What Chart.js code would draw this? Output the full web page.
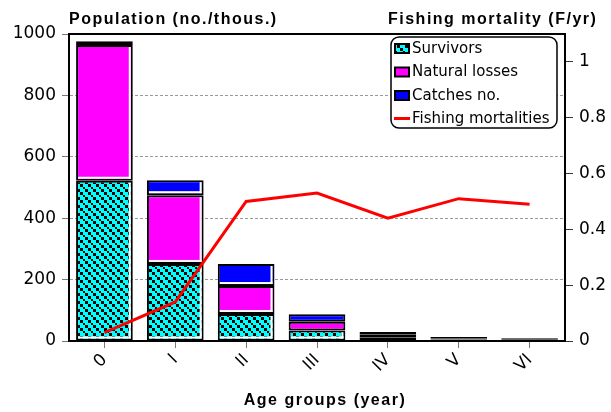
<!DOCTYPE html>
<html>
<head>
<meta charset="utf-8">
<script src="https://cdn.jsdelivr.net/npm/chart.js@4/dist/chart.umd.min.js"></script>
<style>
  html, body { margin: 0; padding: 0; background: #fff; }
  #wrap { width: 611px; height: 412px; }
</style>
</head>
<body>
<div id="wrap"><canvas id="chart"></canvas></div>
<script>
// values
const ageGroups = ['0', 'I', 'II', 'III', 'IV', 'V', 'VI'];
const survivors = [522, 251, 88, 34, 12, 5, 3];
const naturalLosses = [442, 224, 91, 29, 8, 4, 3];
const catches = [12, 49, 72, 24, 9, 4, 3];
const fishingMortality = [0.03, 0.14, 0.50, 0.53, 0.44, 0.51, 0.49];

const leftTitle = 'Population (no./thous.)';
const rightTitle = 'Fishing mortality (F/yr)';
const bottomTitle = 'Age groups (year)';

// cyan with black diagonal squares (drawn big, scaled down to ~8px tile)
const makePattern = () => {
  const c = document.createElement('canvas');
  c.width = 24;
  c.height = 24;
  const g = c.getContext('2d');
  g.fillStyle = '#00FFFF';
  g.fillRect(0, 0, 24, 24);
  g.fillStyle = '#000';
  for (let bx = 0; bx < 3; bx++) {
    for (let by = 0; by < 3; by++) {
      if ((bx - by + 3) % 3 === 0) g.fillRect(bx * 8, by * 8, 8, 8);
    }
  }
  const p = g.createPattern(c, 'repeat');
  p.setTransform(new DOMMatrix().scale(1 / 3));
  return p;
};

const ctx = document.getElementById('chart').getContext('2d');
const cyanPattern = makePattern();

const tickFont = { family: 'DejaVu Sans', size: 17 };

// white inner edge on right and bottom of each bar segment
const barEdges = {
  id: 'barEdges',
  afterDatasetDraw(chart, args) {
    if (args.meta.type !== 'bar') return;
    const c = chart.ctx;
    c.save();
    c.fillStyle = '#fff';
    args.meta.data.forEach(el => {
      const { x, y, base, width } = el.getProps(['x', 'y', 'base', 'width'], true);
      const left = x - width / 2, right = x + width / 2;
      const top = Math.min(y, base), bottom = Math.max(y, base);
      if (bottom - top < 9) return;
      c.fillRect(right - 4, top + 2, 2, bottom - top - 4);
      c.fillRect(left + 2, bottom - 4, right - left - 4, 2);
    });
    c.restore();
  }
};

// frame, titles and the boxed legend
const decorations = {
  id: 'decorations',
  afterDraw(chart) {
    const c = chart.ctx;
    const a = chart.chartArea;
    c.save();
    c.strokeStyle = '#000';
    c.lineWidth = 2;
    c.strokeRect(a.left, a.top, a.right - a.left, a.bottom - a.top);

    c.fillStyle = '#000';
    c.font = 'bold 16px "Liberation Sans", Arial';
    c.letterSpacing = '1.5px';
    c.textBaseline = 'alphabetic';
    c.textAlign = 'left';
    c.fillText(leftTitle, 69, 24);
    c.fillText(rightTitle, 388, 24);
    c.textAlign = 'center';
    c.fillText(bottomTitle, 325, 405);
    c.letterSpacing = '0px';

    // legend box
    const bx = 391, by = 37, bw = 166, bh = 91;
    c.beginPath();
    c.roundRect(bx, by, bw, bh, 8);
    c.fillStyle = '#fff';
    c.fill();
    c.lineWidth = 1.5;
    c.strokeStyle = '#000';
    c.stroke();

    c.font = '15px "DejaVu Sans"';
    c.textAlign = 'left';
    c.textBaseline = 'middle';
    chart.data.datasets.forEach((ds, i) => {
      const y = by + 11 + i * 23.5;
      if (ds.type === 'line') {
        c.strokeStyle = ds.borderColor;
        c.lineWidth = 3;
        c.beginPath();
        c.moveTo(bx + 3, y);
        c.lineTo(bx + 19, y);
        c.stroke();
      } else {
        c.fillStyle = '#000';
        c.fillRect(bx + 3, y - 5, 16, 11);
        c.fillStyle = ds.backgroundColor;
        c.fillRect(bx + 5, y - 3, 12, 7);
      }
      c.fillStyle = '#000';
      c.fillText(ds.label, bx + 21, y + 1);
    });
    c.restore();
  }
};

new Chart(ctx, {
  type: 'bar',
  data: {
    labels: ageGroups,
    datasets: [
      {
        label: 'Survivors',
        data: survivors,
        backgroundColor: cyanPattern,
        borderColor: '#000',
        borderWidth: 2,
        borderSkipped: false,
        order: 1
      },
      {
        label: 'Natural losses',
        data: naturalLosses,
        backgroundColor: '#FF00FF',
        borderColor: '#000',
        borderWidth: 2,
        borderSkipped: false,
        order: 1
      },
      {
        label: 'Catches no.',
        data: catches,
        backgroundColor: '#0000FF',
        borderColor: '#000',
        borderWidth: 2,
        borderSkipped: false,
        order: 1
      },
      {
        type: 'line',
        label: 'Fishing mortalities',
        data: fishingMortality,
        yAxisID: 'y1',
        borderColor: '#FF0000',
        backgroundColor: '#FF0000',
        borderWidth: 3,
        pointRadius: 0,
        tension: 0,
        order: 0
      }
    ]
  },
  options: {
    responsive: true,
    maintainAspectRatio: false,
    animation: false,
    layout: { padding: { top: 34, left: 0, right: 0, bottom: 0 } },
    plugins: {
      legend: { display: false },
      title: { display: false },
      tooltip: { enabled: false }
    },
    datasets: {
      bar: { barPercentage: 0.8, categoryPercentage: 1 }
    },
    scales: {
      x: {
        stacked: true,
        grid: {
          offset: false,
          drawOnChartArea: false,
          tickLength: 7,
          tickColor: '#777'
        },
        border: { color: '#000', width: 2 },
        ticks: {
          color: '#000',
          font: tickFont,
          minRotation: 45,
          maxRotation: 45,
          padding: 2
        },
        afterFit: s => { s.height = 71; }
      },
      y: {
        stacked: true,
        min: 0,
        max: 1000,
        ticks: {
          stepSize: 200,
          color: '#000',
          font: tickFont,
          padding: 6,
          callback: v => String(v)
        },
        grid: {
          color: '#999',
          tickColor: '#777',
          tickLength: 7
        },
        border: { color: '#000', width: 2, dash: [3, 2] },
        afterFit: s => { s.width = 69; }
      },
      y1: {
        position: 'right',
        min: 0,
        max: 1.1,
        ticks: {
          stepSize: 0.2,
          color: '#000',
          font: tickFont,
          padding: 6,
          callback: v => String(Math.round(v * 10) / 10)
        },
        afterBuildTicks: s => {
          s.ticks = s.ticks.filter(t => t.value <= 1.0001);
        },
        grid: {
          drawOnChartArea: false,
          tickColor: '#333',
          tickLength: 8
        },
        border: { color: '#000', width: 2 },
        afterFit: s => { s.width = 46; }
      }
    }
  },
  plugins: [barEdges, decorations]
});
</script>
</body>
</html>
